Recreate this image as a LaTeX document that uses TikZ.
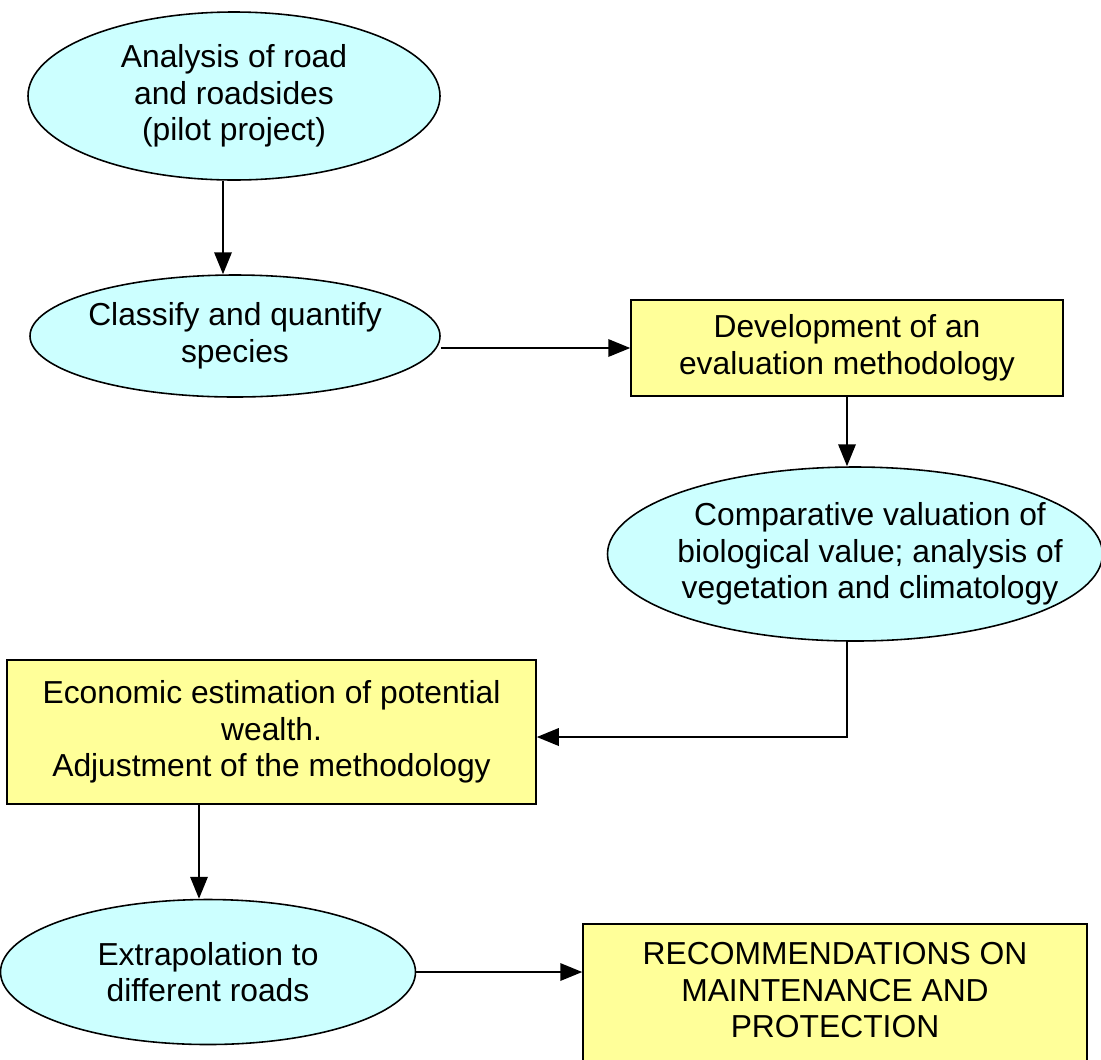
\documentclass[tikz,border=0pt]{standalone}
\usepackage{fontspec}
\setmainfont{Liberation Sans}
\usetikzlibrary{shapes.geometric,arrows.meta}
\definecolor{oval}{HTML}{CCFFFF}
\definecolor{box}{HTML}{FFFF99}
\tikzset{
  stage/.style={ellipse,draw,fill=oval,line width=0.9pt,inner sep=0pt,inner xsep=-1.2cm,
    align=center,font=\fontsize{18.1}{20.9}\selectfont},
  task/.style={rectangle,draw,fill=box,line width=0.9pt,inner sep=0pt,align=center,
    font=\fontsize{18.1}{20.9}\selectfont},
  arr/.style={line width=0.9pt,-{Triangle[length=12.5pt,width=10pt]}}
}
\begin{document}
\begin{tikzpicture}[x=0.02cm,y=-0.02cm]
      \clip (0,0) rectangle (1101,1059);
      \fill[white] (0,0) rectangle (1101,1059);
      \node[stage,minimum width=412*0.02cm,minimum height=168*0.02cm] (analysis) at (234,96)
        {Analysis of road\\and roadsides\\(pilot project)};
      \node[stage,minimum width=410*0.02cm,minimum height=122*0.02cm] (classify) at (235,336)
        {Classify and quantify\\species};
      \node[task,minimum width=432*0.02cm,minimum height=96*0.02cm] (develop) at (847,348)
        {Development of an\\evaluation methodology};
      \node[stage,minimum width=495*0.02cm,minimum height=174*0.02cm] (compare) at (855,554)
        {\hspace*{0.6cm}Comparative valuation of\\\hspace*{0.6cm}biological value; analysis of\\\hspace*{0.6cm}vegetation and climatology};
      \node[task,minimum width=529*0.02cm,minimum height=144*0.02cm] (economic) at (271.5,732)
        {Economic estimation of potential\\wealth.\\Adjustment of the methodology};
      \node[stage,minimum width=415*0.02cm,minimum height=145*0.02cm] (extrap) at (208,972)
        {Extrapolation to\\different roads};
      \node[task,minimum width=504*0.02cm,minimum height=150*0.02cm] (recommend) at (835,999)
        {RECOMMENDATIONS ON\\MAINTENANCE AND\\PROTECTION\rule[-0.36cm]{0pt}{0pt}};
      \coordinate (bend) at (847,737);
      % connectors
      \draw[arr] (analysis.south -| 223,0) -- (classify.north -| 223,0);
      \draw[arr] (classify.east |- develop.west) -- (develop.west);
      \draw[arr] (develop.south) -- (develop.south |- compare.north);
      \draw[arr] (compare.south -| bend) -- (bend) -- (bend -| economic.east);
      \draw[arr] (economic.south -| 199,0) -- (extrap.north -| 199,0);
      \draw[arr] (extrap.east) -- (extrap.east -| recommend.west);
    \end{tikzpicture}
\end{document}
